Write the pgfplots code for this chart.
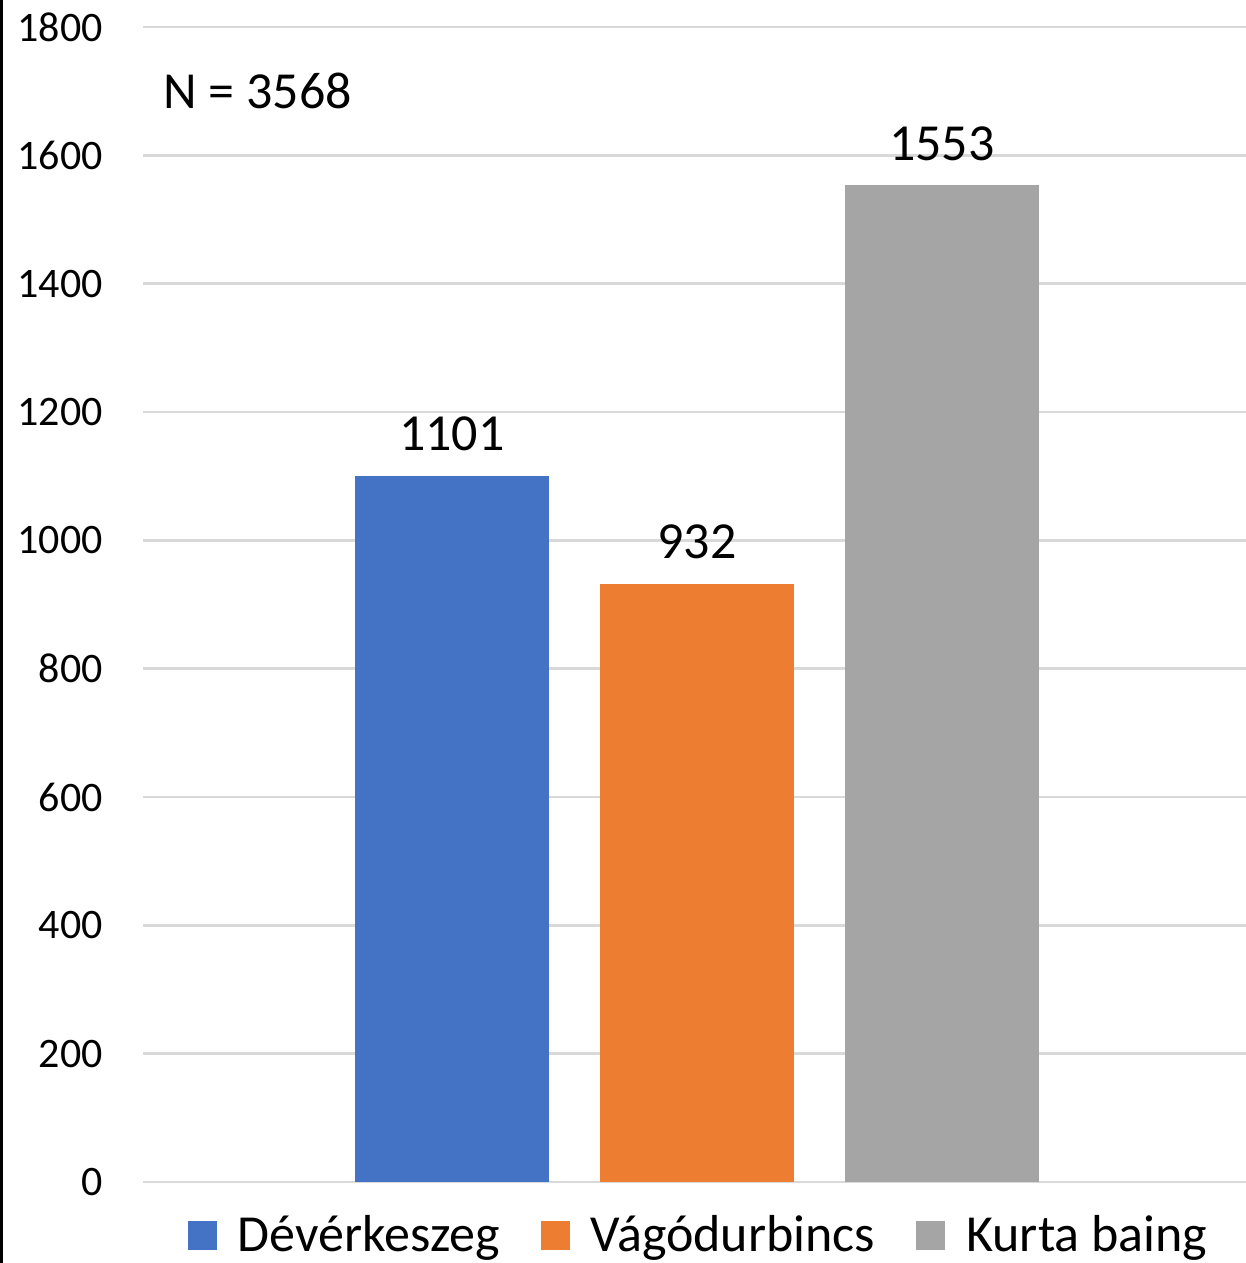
\documentclass[border=0pt]{standalone}
\usepackage{pgfplots}
\pgfplotsset{compat=1.18}
\usepackage{fontspec}
\setmainfont{Carlito}
\definecolor{cblue}{HTML}{4472C4}
\definecolor{corange}{HTML}{ED7D31}
\definecolor{cgray}{HTML}{A5A5A5}
\definecolor{gridgray}{HTML}{D9D9D9}
\begin{document}
\begin{tikzpicture}[x=1pt,y=1pt]
\begin{axis}[
  scale only axis, width=551.5pt, height=577.5pt,
  ybar, bar width=0.792,
  xmin=-0.261, xmax=4.241, ymin=0, ymax=1800,
  ytick={0,200,...,1800}, xtick=\empty,
  ymajorgrids, grid style={draw=gridgray, line width=1.2pt},
  axis line style={draw=none},
  major tick length=0pt,
  /pgf/number format/assume math mode=true,
  /pgf/number format/set thousands separator={},
  yticklabel style={font=\fontsize{21}{25}\selectfont, anchor=east, inner sep=0pt, xshift=-20pt},
  nodes near coords,
  nodes near coords style={font=\fontsize{26}{30}\selectfont, anchor=base, inner sep=0pt, yshift=12.5pt, text=black},
  every node near coord/.append style={/pgf/number format/assume math mode=true},
  legend style={at={(0.5045,0)}, anchor=center, yshift=-26.5pt, draw=none, fill=none,
    font=\fontsize{26}{30}\selectfont, legend columns=3,
    /tikz/every odd column/.append style={column sep=8.5pt},
    /tikz/every even column/.append style={column sep=18.5pt},
    inner sep=0pt},
  legend image code/.code={\fill[#1] (0pt,-7.25pt) rectangle (14.5pt,7.25pt);},
  legend cell align=left,
]
\addplot[fill=cblue, draw=none, bar shift=0] coordinates {(1,1101)};
\addlegendentry{Dévérkeszeg}
\addplot[fill=corange, draw=none, bar shift=0] coordinates {(2,932)};
\addlegendentry{Vágódurbincs}
\addplot[fill=cgray, draw=none, bar shift=0] coordinates {(3,1553)};
\addlegendentry{Kurta baing}
\node[anchor=west, inner sep=0pt, font=\fontsize{26}{30}\selectfont] at (axis cs:-0.179,1700) {N = 3568};
\end{axis}
\fill[black] (-71.5,-40.5) rectangle (-70,591);
\pgfresetboundingbox
\path[use as bounding box] (-71.5,-40.5) rectangle (551.5,591);
\end{tikzpicture}
\end{document}
